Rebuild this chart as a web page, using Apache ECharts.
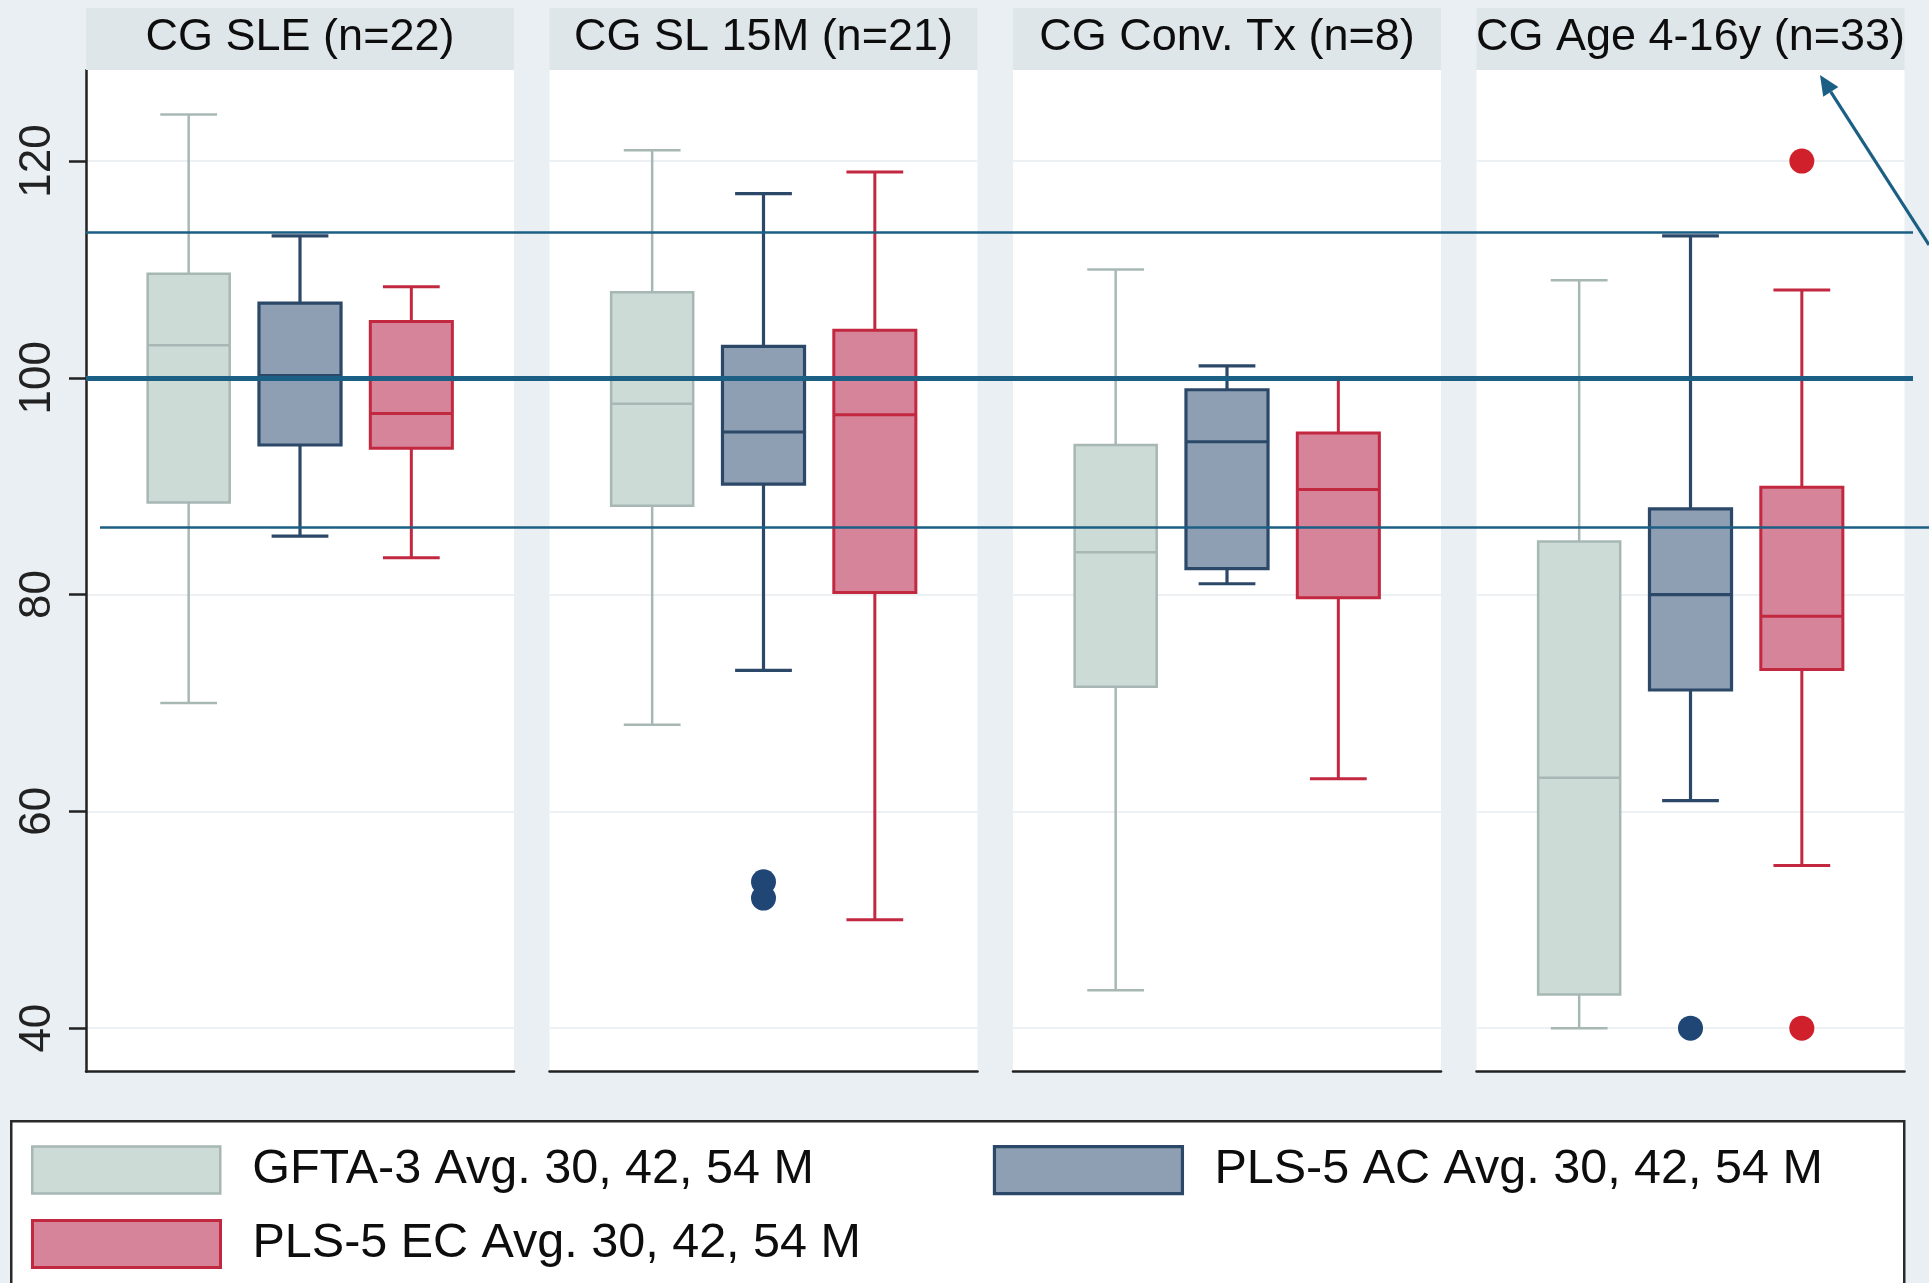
<!DOCTYPE html>
<html>
<head>
<meta charset="utf-8">
<script src="https://cdn.jsdelivr.net/npm/echarts@6/dist/echarts.min.js"></script>
<style>
html,body{margin:0;padding:0;background:#e9eff2;}
#chart{width:1929px;height:1283px;}
</style>
</head>
<body>
<div id="chart"></div>
<script>
// ---------------- DATA ----------------
const groups = ['CG SLE (n=22)', 'CG SL 15M (n=21)', 'CG Conv. Tx (n=8)', 'CG Age 4-16y (n=33)'];
const measures = ['GFTA-3 Avg. 30, 42, 54 M', 'PLS-5 AC Avg. 30, 42, 54 M', 'PLS-5 EC Avg. 30, 42, 54 M'];
// [lower whisker, Q1, median, Q3, upper whisker] for each group
const gftaStats = [
  [70.0, 88.5, 103.0, 109.6, 124.3],
  [68.0, 88.2, 97.6, 107.9, 121.0],
  [43.5, 71.5, 83.9, 93.8, 110.0],
  [40.0, 43.1, 63.1, 84.9, 109.0]
];
const acStats = [
  [85.4, 93.8, 100.2, 106.9, 113.1],
  [73.0, 90.2, 95.0, 102.9, 117.0],
  [81.0, 82.4, 94.1, 98.9, 101.1],
  [61.0, 71.2, 80.0, 87.9, 113.1]
];
const ecStats = [
  [83.4, 93.5, 96.7, 105.2, 108.4],
  [50.0, 80.2, 96.6, 104.4, 119.0],
  [63.0, 79.7, 89.7, 94.9, 100.0],
  [55.0, 73.1, 78.0, 89.9, 108.1]
];
// outliers: [group index, value]
const gftaOutliers = [];
const acOutliers = [[1, 53.5], [1, 52.0], [3, 40.0]];
const ecOutliers = [[3, 120.0], [3, 40.0]];
const yTicks = [40, 60, 80, 100, 120];
const refNorm = 100;
const refUpper = 113.4;
const refLower = 86.2;

// ---------------- STYLE / LAYOUT ----------------
const Y_MIN = 36, Y_MAX = 128.4;
const PANEL_LEFT0 = 86, PANEL_STEP = 463.5, PANEL_W = 428;
const PLOT_TOP = 70, PLOT_H = 1001.5;
const INSET = 47;
const HEADER_TOP = 8, HEADER_H = 62;
const FONT = "'Liberation Sans', Arial, Helvetica, sans-serif";
const REF_COLOR = '#1c5f84';

const seriesStyles = [
  { fill: '#cddbd7', stroke: '#a7b8b4', lw: 2.5, dot: '#a7b8b4' },
  { fill: '#8e9fb3', stroke: '#2c4868', lw: 3.2, dot: '#1f4675' },
  { fill: '#d5849a', stroke: '#c2283f', lw: 3.0, dot: '#d0202c' }
];
const statsList = [gftaStats, acStats, ecStats];
const outlierList = [gftaOutliers, acOutliers, ecOutliers];
const BOX_RATIO = 0.737, CAP_RATIO = 0.51;

function makeRender(st) {
  return function (params, api) {
    const c = api.value(0);
    const lo = api.coord([c, api.value(1)]);
    const q1 = api.coord([c, api.value(2)]);
    const md = api.coord([c, api.value(3)]);
    const q3 = api.coord([c, api.value(4)]);
    const hi = api.coord([c, api.value(5)]);
    const band = api.size([1, 0])[0];
    const bw = band * BOX_RATIO, cw = band * CAP_RATIO;
    const x = md[0];
    const ls = { stroke: st.stroke, lineWidth: st.lw };
    return {
      type: 'group',
      children: [
        { type: 'line', shape: { x1: x, y1: hi[1], x2: x, y2: q3[1] }, style: ls },
        { type: 'line', shape: { x1: x, y1: q1[1], x2: x, y2: lo[1] }, style: ls },
        { type: 'line', shape: { x1: x - cw / 2, y1: hi[1], x2: x + cw / 2, y2: hi[1] }, style: ls },
        { type: 'line', shape: { x1: x - cw / 2, y1: lo[1], x2: x + cw / 2, y2: lo[1] }, style: ls },
        { type: 'rect', shape: { x: x - bw / 2, y: q3[1], width: bw, height: q1[1] - q3[1] },
          style: { fill: st.fill, stroke: st.stroke, lineWidth: st.lw } },
        { type: 'line', shape: { x1: x - bw / 2, y1: md[1], x2: x + bw / 2, y2: md[1] }, style: ls }
      ]
    };
  };
}

const grids = [], xAxes = [], yAxes = [], series = [], titles = [], graphics = [];
groups.forEach(function (g, i) {
  const left = PANEL_LEFT0 + i * PANEL_STEP;
  grids.push({ left: left, top: PLOT_TOP, width: PANEL_W, height: PLOT_H, show: true,
    backgroundColor: '#ffffff', borderWidth: 0, containLabel: false });
  grids.push({ left: left + INSET, top: PLOT_TOP, width: PANEL_W - 2 * INSET, height: PLOT_H,
    containLabel: false });
  xAxes.push({ gridIndex: 2 * i, type: 'category', data: [''],
    axisLine: { show: true, onZero: false, lineStyle: { color: '#222', width: 2.5 } },
    axisTick: { show: false }, axisLabel: { show: false }, splitLine: { show: false } });
  xAxes.push({ gridIndex: 2 * i + 1, type: 'category', data: measures, show: false });
  yAxes.push({ gridIndex: 2 * i, type: 'value', min: Y_MIN, max: Y_MAX,
    axisLine: { show: i === 0, lineStyle: { color: '#222', width: 2.5 } },
    axisTick: { show: i === 0, length: 17, customValues: yTicks, lineStyle: { color: '#222', width: 2.5 } },
    axisLabel: { show: i === 0, customValues: yTicks, rotate: 90, fontSize: 44, color: '#222',
      fontFamily: FONT, margin: 26 },
    splitLine: { show: true, lineStyle: { color: '#eef1f3', width: 2 } } });
  yAxes.push({ gridIndex: 2 * i + 1, type: 'value', min: Y_MIN, max: Y_MAX, show: false,
    splitLine: { show: false } });

  measures.forEach(function (m, k) {
    const st = seriesStyles[k];
    series.push({
      type: 'custom', name: m, xAxisIndex: 2 * i + 1, yAxisIndex: 2 * i + 1, z: 3,
      itemStyle: { color: st.fill, borderColor: st.stroke, borderWidth: st.lw },
      encode: { x: 0, y: [1, 2, 3, 4, 5] },
      data: [[k].concat(statsList[k][i])],
      renderItem: makeRender(st)
    });
    const outs = outlierList[k].filter(function (o) { return o[0] === i; })
      .map(function (o) { return [k, o[1]]; });
    if (outs.length) {
      series.push({
        type: 'scatter', name: m, xAxisIndex: 2 * i + 1, yAxisIndex: 2 * i + 1, z: 4,
        symbol: 'circle', symbolSize: 25,
        itemStyle: { color: st.dot, opacity: 1 },
        data: outs
      });
    }
  });

  graphics.push({ type: 'rect', left: left, top: HEADER_TOP, z: 1,
    shape: { width: PANEL_W, height: HEADER_H }, style: { fill: '#dfe6ea' } });
  titles.push({ text: g, left: left + PANEL_W / 2, textAlign: 'center', top: 15, padding: 0,
    textStyle: { fontSize: 45, fontWeight: 'normal', color: '#0d0d0d', fontFamily: FONT, lineHeight: 45 } });
});

// overlay grid for reference lines (x in pixel-like units for extents)
grids.push({ left: PANEL_LEFT0, top: PLOT_TOP, width: 1929 - PANEL_LEFT0, height: PLOT_H });
xAxes.push({ gridIndex: 8, type: 'value', min: PANEL_LEFT0, max: 1929, show: false, splitLine: { show: false } });
yAxes.push({ gridIndex: 8, type: 'value', min: Y_MIN, max: Y_MAX, show: false, splitLine: { show: false } });
series.push({
  type: 'line', name: 'ref', xAxisIndex: 8, yAxisIndex: 8, data: [], z: 10,
  markLine: {
    silent: true, symbol: ['none', 'none'], animation: false,
    label: { show: false },
    lineStyle: { color: REF_COLOR, type: 'solid', width: 2.5 },
    data: [
      [{ coord: [86, refUpper] }, { coord: [1913, refUpper] }],
      [{ coord: [86, refNorm], lineStyle: { width: 5, color: REF_COLOR, type: 'solid' } }, { coord: [1913, refNorm] }],
      [{ coord: [100, refLower] }, { coord: [1929, refLower] }]
    ]
  }
});

// legend frame
graphics.push({ type: 'rect', left: 10, top: 1120, z: 0,
  shape: { width: 1893, height: 220 }, style: { fill: '#ffffff', stroke: '#2a2a2a', lineWidth: 2.5 } });

// annotation arrow
const tail = [1929, 245], tip = [1820, 75];
(function () {
  const dx = tip[0] - tail[0], dy = tip[1] - tail[1];
  const len = Math.sqrt(dx * dx + dy * dy);
  const ux = dx / len, uy = dy / len, px = -uy, py = ux;
  const hl = 20, hw = 9;
  const bx = tip[0] - ux * hl, by = tip[1] - uy * hl;
  graphics.push({ type: 'line', z: 20, shape: { x1: tail[0], y1: tail[1], x2: bx, y2: by },
    style: { stroke: REF_COLOR, lineWidth: 3.2 } });
  graphics.push({ type: 'polygon', z: 20,
    shape: { points: [[tip[0], tip[1]], [bx + px * hw, by + py * hw], [bx - px * hw, by - py * hw]] },
    style: { fill: REF_COLOR } });
})();

function legendItem(k) {
  const st = seriesStyles[k];
  return { name: measures[k], icon: 'rect',
    itemStyle: { color: st.fill, borderColor: st.stroke, borderWidth: st.lw } };
}
const legendText = { fontSize: 48.5, color: '#0d0d0d', fontFamily: FONT, lineHeight: 48, padding: [0, 0, 0, 27] };

const option = {
  animation: false,
  backgroundColor: '#e9eff2',
  textStyle: { fontFamily: FONT },
  title: titles,
  grid: grids,
  xAxis: xAxes,
  yAxis: yAxes,
  legend: [
    { left: 31, top: 1145, padding: 0, orient: 'horizontal', itemWidth: 188, itemHeight: 47, itemGap: 179,
      data: [legendItem(0), legendItem(1)], textStyle: legendText, z: 5 },
    { left: 31, top: 1219, padding: 0, orient: 'horizontal', itemWidth: 188, itemHeight: 47, itemGap: 179,
      data: [legendItem(2)], textStyle: legendText, z: 5 }
  ],
  graphic: graphics,
  series: series
};
const chart = echarts.init(document.getElementById('chart'), null, { renderer: 'canvas' });
chart.setOption(option);
</script>
</body>
</html>
